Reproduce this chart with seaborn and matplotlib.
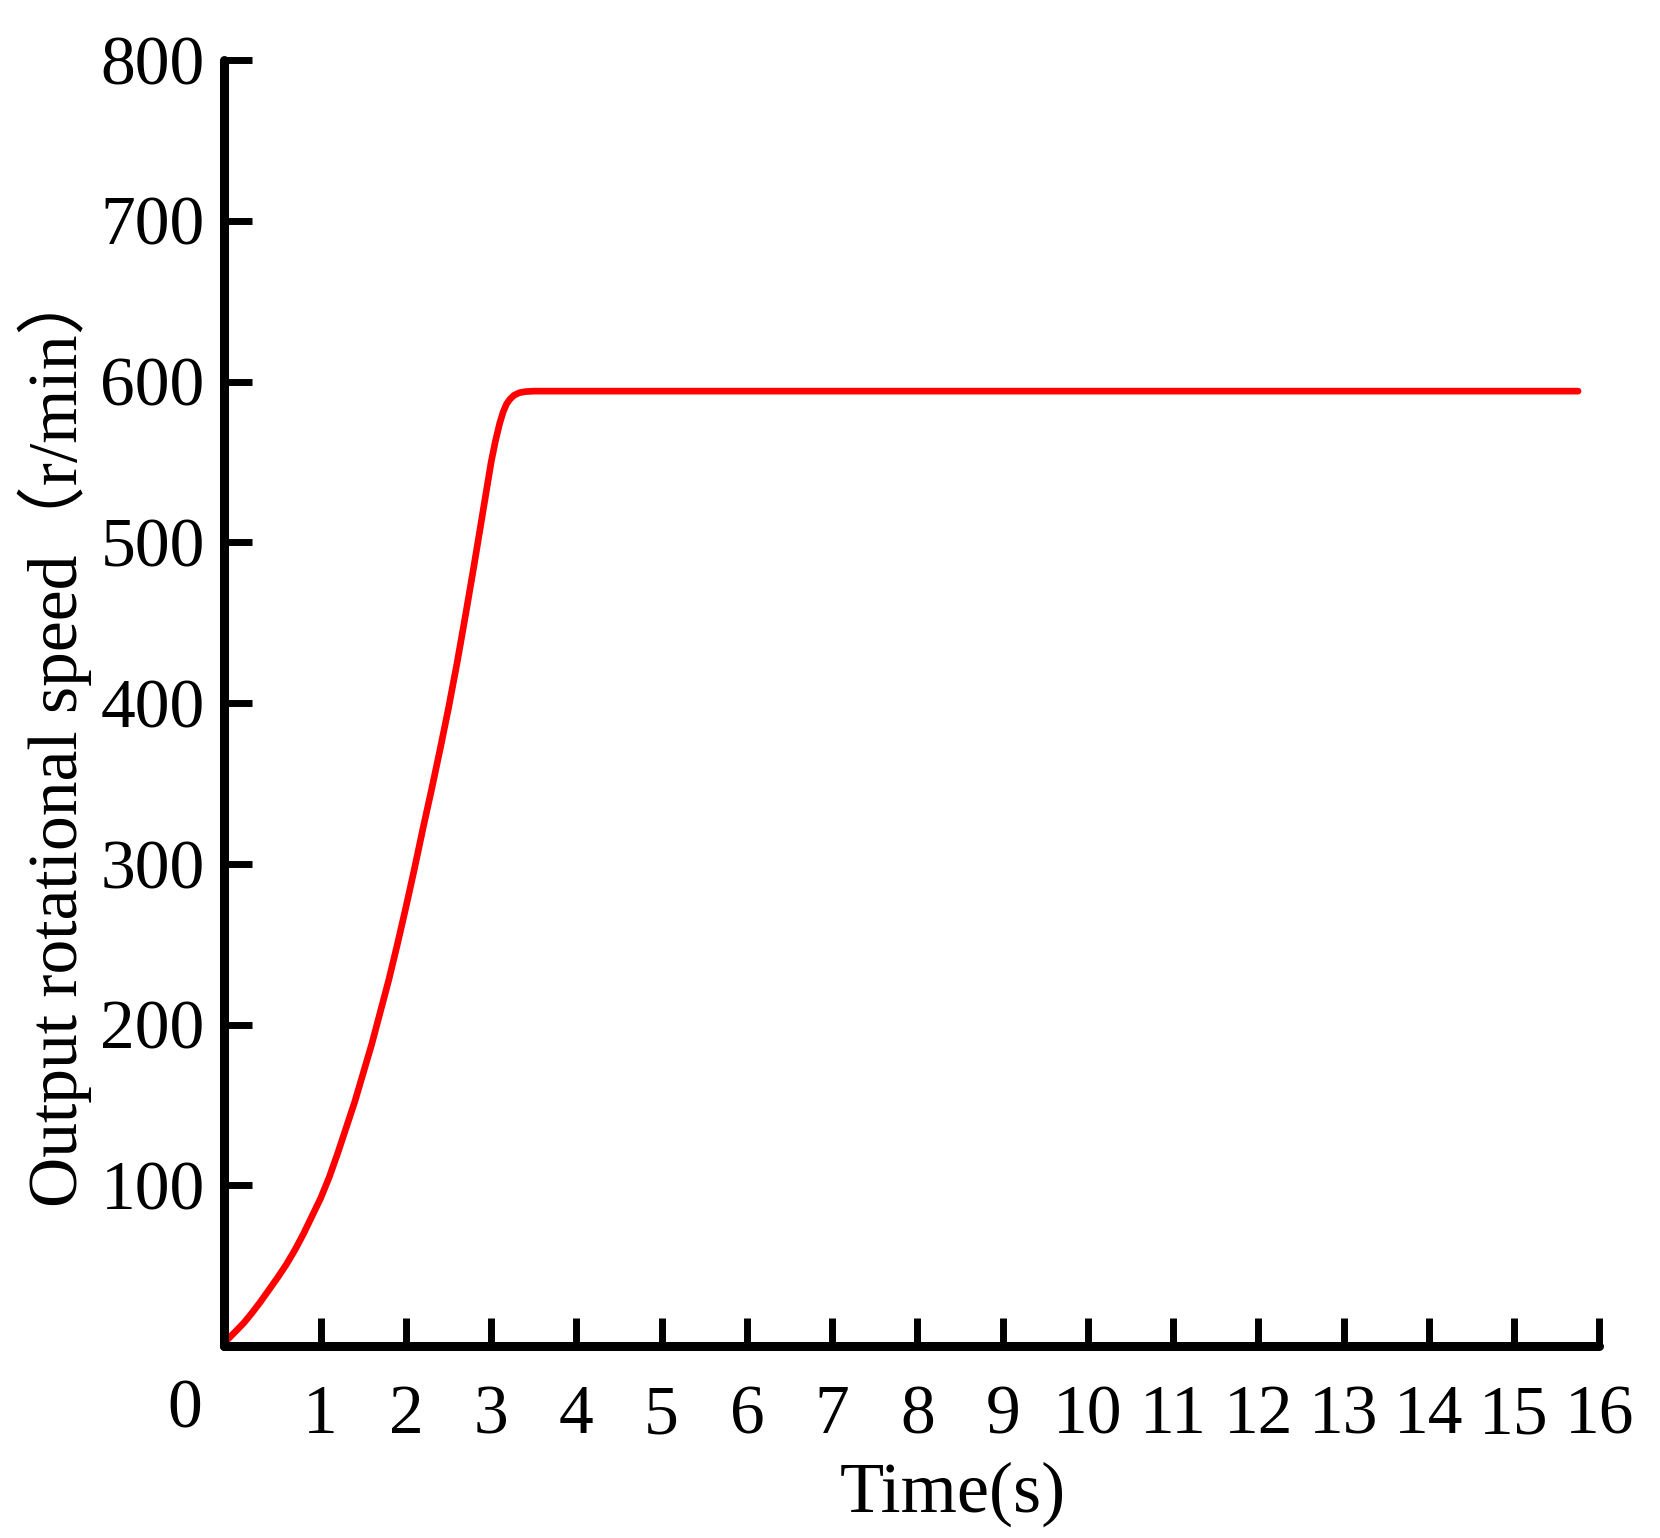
import matplotlib
matplotlib.use("Agg")
import matplotlib.pyplot as plt
import seaborn as sns
import pandas as pd

# speed curve
time_s = [-0.10, 0.0, 0.1, 0.2, 0.3, 0.4, 0.5, 0.6, 0.7, 0.8, 0.9, 1.0,
          1.1, 1.2, 1.3, 1.4, 1.5, 1.6, 1.7, 1.8, 1.9, 2.0, 2.1, 2.2, 2.3,
          2.4, 2.5, 2.6, 2.7, 2.8, 2.9, 3.0, 3.05, 3.1, 3.14, 3.18, 3.22,
          3.27, 3.33, 3.4, 3.5, 15.75]
speed = [3.7, 9, 14.5, 21, 28, 35.5, 43, 51, 60, 70, 81, 92,
         105, 120, 136, 152, 170, 188, 208, 228, 250, 273, 297, 322, 346,
         371, 397, 425, 455, 486, 518, 550, 563, 574, 581, 586, 589,
         591.5, 593, 593.7, 594, 594]
x_ticks = list(range(1, 17))
y_ticks = [100, 200, 300, 400, 500, 600, 700, 800]

df = pd.DataFrame({"Time": time_s, "Speed": speed})

sns.set_theme(style="ticks")
plt.rcParams['font.family'] = ['Liberation Serif', 'Noto Sans CJK SC']
plt.rcParams['text.color'] = 'black'
plt.rcParams['axes.labelcolor'] = 'black'

fig = plt.figure(figsize=(16.6, 15.38), dpi=100)
ax = fig.add_axes([0.135, 0.1248, 0.8285, 0.8362])
sns.lineplot(data=df, x="Time", y="Speed", color='#ff0000', lw=4.8, ax=ax,
             solid_capstyle='round')

ax.set_xlim(-0.133, 16)
ax.set_ylim(0, 800)
ax.set_xticks(x_ticks)
ax.set_yticks(y_ticks)
ax.tick_params(direction='in', length=20, width=5, labelsize=50,
               colors='black', labelcolor='black')
ax.tick_params(axis='x', pad=28)
ax.tick_params(axis='y', pad=14)
for t in ax.xaxis.get_ticklines() + ax.yaxis.get_ticklines():
    t.set_solid_capstyle('round')
for s in ['top', 'right']:
    ax.spines[s].set_visible(False)
for s in ['left', 'bottom']:
    ax.spines[s].set_linewidth(6.5)
    ax.spines[s].set_color('black')
    ax.spines[s].set_capstyle('round')

ax.text(-0.6, -0.05, '0', transform=ax.get_xaxis_transform(), fontsize=50,
        ha='center', va='center', color='black')

ax.set_xlabel('Time(s)', fontsize=52, color='black')
ax.set_ylabel('Output rotational speed（r/min）', fontsize=50, color='black')
ax.xaxis.set_label_coords(0.53, -0.09)
ax.yaxis.set_label_coords(-0.096, 0.474)

fig.savefig('out.png', dpi=100, facecolor='white')
